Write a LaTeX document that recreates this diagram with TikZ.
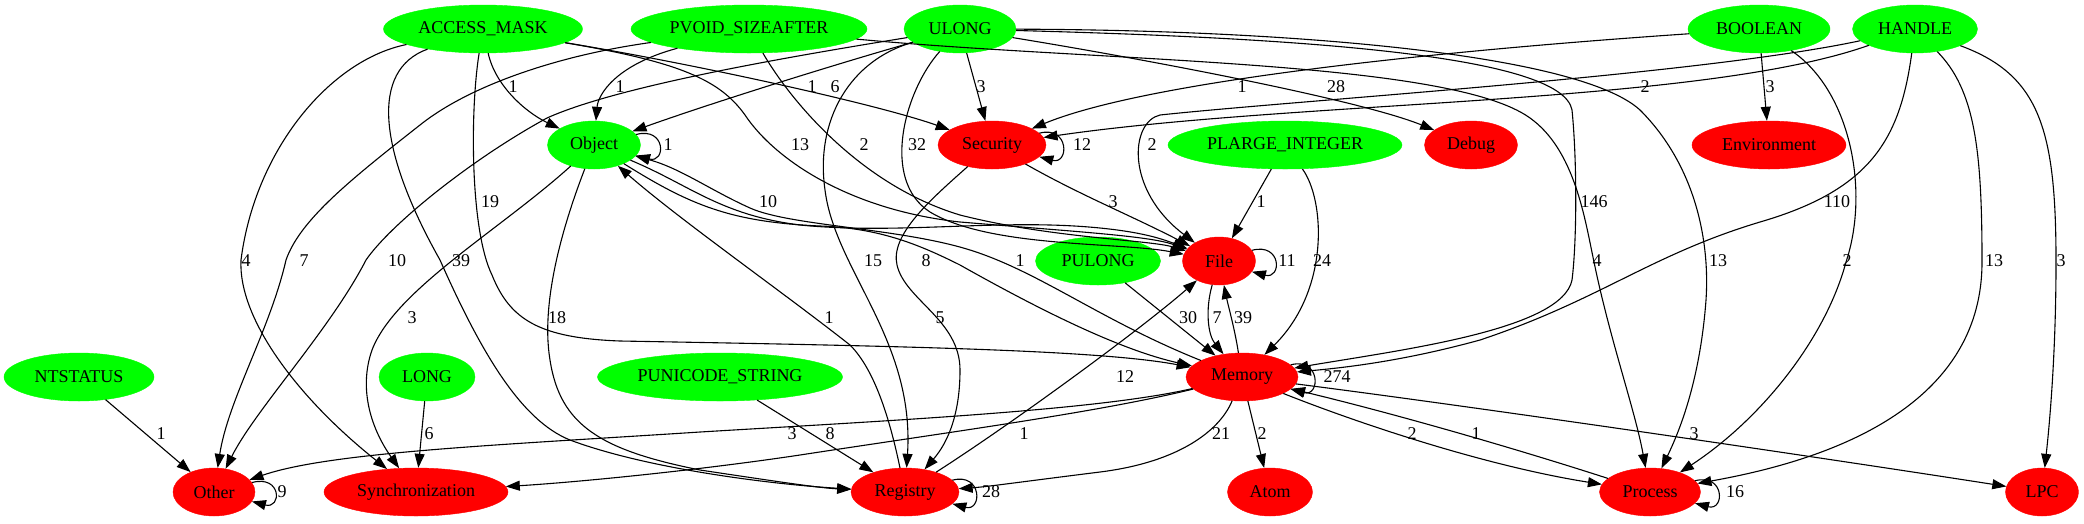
\documentclass[tikz,border=0pt]{standalone}
\usepackage{fontspec}
\setmainfont{Liberation Serif}
\usetikzlibrary{shapes.geometric,arrows.meta}
\definecolor{gvgreen}{RGB}{0,255,0}
\definecolor{gvred}{RGB}{255,0,0}
\tikzset{
  basenode/.style={ellipse, inner sep=0pt, minimum height=48pt, font=\fontsize{18}{20}\selectfont},
  gnode/.style={basenode, fill=gvgreen, draw=gvgreen},
  rnode/.style={basenode, fill=gvred, draw=gvred},
  conn/.style={draw=black, line width=1.1pt, -{Triangle[length=14pt,width=10pt]}},
  lbl/.style={font=\fontsize{18}{20}\selectfont, inner sep=0pt},
}
\begin{document}
\begin{tikzpicture}[x=1pt,y=-1pt]
\fill[white] (0,0) rectangle (2084,523);
\useasboundingbox (0,0) rectangle (2084,523);
% nodes
\node[gnode, minimum width=199pt] (AM) at (483,29) {ACCESS\_MASK};
\node[gnode, minimum width=236pt] (PV) at (749,29) {PVOID\_SIZEAFTER};
\node[gnode, minimum width=112pt] (UL) at (960,29) {ULONG};
\node[gnode, minimum width=142pt] (BO) at (1759,29) {BOOLEAN};
\node[gnode, minimum width=125pt] (HA) at (1915,29) {HANDLE};
\node[gnode, minimum width=93pt] (OB) at (594,145) {Object};
\node[rnode, minimum width=108pt] (SE) at (992,145) {Security};
\node[gnode, minimum width=234pt] (PL) at (1285,145) {PLARGE\_INTEGER};
\node[rnode, minimum width=93pt] (DE) at (1471,145) {Debug};
\node[rnode, minimum width=154pt] (EN) at (1769,145) {Environment};
\node[gnode, minimum width=125pt] (PU) at (1098,261) {PULONG};
\node[rnode, minimum width=73pt] (FI) at (1219,261) {File};
\node[gnode, minimum width=150pt] (NT) at (79,377) {NTSTATUS};
\node[gnode, minimum width=96pt] (LO) at (427,377) {LONG};
\node[gnode, minimum width=245pt] (PS) at (720,377) {PUNICODE\_STRING};
\node[rnode, minimum width=112pt] (ME) at (1242,377) {Memory};
\node[rnode, minimum width=82pt] (OT) at (214,492) {Other};
\node[rnode, minimum width=184pt] (SY) at (416,492) {Synchronization};
\node[rnode, minimum width=108pt] (RE) at (905,492) {Registry};
\node[rnode, minimum width=85pt] (AT) at (1270,492) {Atom};
\node[rnode, minimum width=101pt] (PR) at (1650,492) {Process};
\node[rnode, minimum width=73pt] (LP) at (2042,492) {LPC};
% edges from top row
\draw[conn] (AM) .. controls (495,85) and (525,112) .. (OB);
\draw[conn] (PV) .. controls (615,65) and (598,95) .. (OB);
\draw[conn] (UL) .. controls (850,60) and (720,100) .. (OB);
\draw[conn] (UL) .. controls (800,55) and (620,85) .. (547,118) .. controls (470,160) and (390,225) .. (366,260) .. controls (330,330) and (255,410) .. (OT);
\draw[conn] (PV) .. controls (560,55) and (470,85) .. (420,125) .. controls (350,180) and (300,220) .. (286,260) .. controls (270,330) and (228,400) .. (OT);
\draw[conn] (AM) .. controls (330,60) and (255,150) .. (241,260) .. controls (238,320) and (300,400) .. (SY);
\draw[conn] (AM) .. controls (370,70) and (378,150) .. (440,260) .. controls (480,350) and (520,420) .. (570,440) .. controls (650,470) and (780,485) .. (RE);
\draw[conn] (AM) .. controls (470,110) and (470,230) .. (492,275) .. controls (510,320) and (540,338) .. (620,341) .. controls (900,346) and (1100,350) .. (ME);
\draw[conn] (AM) .. controls (700,65) and (880,105) .. (SE);
\draw[conn] (AM) .. controls (680,62) and (720,80) .. (745,115) .. controls (775,160) and (850,210) .. (960,222) .. controls (1080,232) and (1150,236) .. (FI);
\draw[conn] (PV) .. controls (790,100) and (860,185) .. (960,215) .. controls (1050,238) and (1150,240) .. (FI);
\draw[conn] (PV) .. controls (1100,62) and (1450,60) .. (1530,118) .. controls (1575,150) and (1585,220) .. (1594,262) .. controls (1610,340) and (1635,410) .. (PR);
\draw[conn] (UL) -- (SE);
\draw[conn] (UL) .. controls (905,90) and (880,180) .. (930,212) .. controls (990,248) and (1120,242) .. (FI);
\draw[conn] (UL) .. controls (850,60) and (815,120) .. (825,190) .. controls (835,270) and (915,340) .. (RE);
\draw[conn] (UL) .. controls (1150,60) and (1360,100) .. (DE);
\draw[conn] (UL) .. controls (1300,38) and (1562,55) .. (1572,110) .. controls (1577,160) and (1577,240) .. (1572,280) .. controls (1562,330) and (1400,350) .. (ME);
\draw[conn] (UL) .. controls (1300,30) and (1580,55) .. (1640,110) .. controls (1695,165) and (1710,240) .. (1706,300) .. controls (1700,380) and (1680,430) .. (PR);
\draw[conn] (BO) .. controls (1450,50) and (1150,80) .. (SE);
\draw[conn] (BO) -- (EN);
\draw[conn] (BO) .. controls (1850,90) and (1870,190) .. (1846,262) .. controls (1825,340) and (1760,420) .. (PR);
\draw[conn] (HA) .. controls (1700,105) and (1300,100) .. (SE);
\draw[conn] (HA) .. controls (1700,75) and (1300,100) .. (1160,115) .. controls (1130,122) and (1125,190) .. (FI);
\draw[conn] (HA) .. controls (1900,140) and (1870,190) .. (1760,222) .. controls (1650,255) and (1600,300) .. (1480,340) .. controls (1400,362) and (1340,368) .. (ME);
\draw[conn] (HA) .. controls (1975,90) and (1982,150) .. (1982,262) .. controls (1982,420) and (1800,465) .. (PR);
\draw[conn] (HA) .. controls (2040,75) and (2056,130) .. (2056,262) .. controls (2056,350) and (2050,420) .. (LP);
% middle
\draw[conn] (PL) -- (FI);
\draw[conn] (PL) .. controls (1325,200) and (1330,290) .. (ME);
\draw[conn] (SE) .. controls (1080,195) and (1130,215) .. (FI);
\draw[conn] (SE) .. controls (930,200) and (890,235) .. (897,265) .. controls (905,300) and (960,320) .. (960,370) .. controls (960,410) and (950,440) .. (RE);
\draw[conn] (OB) .. controls (500,230) and (395,290) .. (372,350) .. controls (358,390) and (372,430) .. (SY);
\draw[conn] (OB) .. controls (565,220) and (540,300) .. (550,360) .. controls (560,425) and (600,450) .. (700,470) .. controls (780,482) and (820,488) .. (RE);
\draw[conn] (OB) .. controls (690,185) and (720,215) .. (800,225) .. controls (900,235) and (1000,218) .. (1100,228) .. controls (1140,232) and (1160,238) .. (FI);
\draw[conn] (ME) .. controls (1100,320) and (1040,272) .. (970,250) .. controls (900,228) and (790,226) .. (750,208) .. controls (710,190) and (680,168) .. (OB);
\draw[conn] (OB) .. controls (690,205) and (730,222) .. (820,226) .. controls (880,228) and (920,245) .. (960,265) .. controls (1040,310) and (1120,350) .. (ME);
\draw[conn] (RE) .. controls (890,420) and (875,370) .. (850,345) .. controls (780,290) and (680,220) .. (OB);
\draw[conn] (RE) .. controls (1010,425) and (1140,330) .. (FI);
\draw[conn] (PU) -- (ME);
\draw[conn] (FI) .. controls (1205,310) and (1208,335) .. (ME);
\draw[conn] (ME) .. controls (1235,330) and (1228,305) .. (FI);
% from Memory
\draw[conn] (ME) .. controls (1100,410) and (900,420) .. (700,432) .. controls (500,445) and (330,452) .. (OT);
\draw[conn] (ME) .. controls (1100,412) and (950,432) .. (800,455) .. controls (700,470) and (580,482) .. (SY);
\draw[conn] (ME) .. controls (1220,430) and (1180,462) .. (1100,472) .. controls (1020,482) and (985,487) .. (RE);
\draw[conn] (ME) -- (AT);
\draw[conn] (ME) .. controls (1350,420) and (1480,465) .. (PR);
\draw[conn] (PR) .. controls (1520,450) and (1400,415) .. (ME);
\draw[conn] (ME) .. controls (1500,410) and (1850,462) .. (LP);
\draw[conn] (NT) -- (OT);
\draw[conn] (LO) -- (SY);
\draw[conn] (PS) -- (RE);
% self loops
\draw[conn] (OB.14) .. controls +(30,-8) and +(30,8) .. (OB.-14);
\draw[conn] (SE.14) .. controls +(30,-8) and +(30,8) .. (SE.-14);
\draw[conn] (FI.18) .. controls +(30,-8) and +(30,8) .. (FI.-18);
\draw[conn] (ME.14) .. controls +(30,-8) and +(30,8) .. (ME.-14);
\draw[conn] (OT.14) .. controls +(30,-8) and +(30,8) .. (OT.-14);
\draw[conn] (RE.14) .. controls +(30,-8) and +(30,8) .. (RE.-14);
\draw[conn] (PR.14) .. controls +(30,-8) and +(30,8) .. (PR.-14);
% labels
\node[lbl] (l1) at (513,87) {1};
\node[lbl] (l2) at (620,87) {1};
\node[lbl] (l3) at (812,87) {1};
\node[lbl] (l4) at (835,87) {6};
\node[lbl] (l5) at (981,87) {3};
\node[lbl] (l6) at (1242,87) {1};
\node[lbl] (l7) at (1336,87) {28};
\node[lbl] (l8) at (1645,87) {2};
\node[lbl] (l9) at (1770,87) {3};
\node[lbl] (l10) at (668,145) {1};
\node[lbl] (l11) at (800,145) {13};
\node[lbl] (l12) at (864,145) {2};
\node[lbl] (l13) at (917,145) {32};
\node[lbl] (l14) at (1082,145) {12};
\node[lbl] (l15) at (1152,145) {2};
\node[lbl] (l16) at (490,202) {19};
\node[lbl] (l17) at (768,202) {10};
\node[lbl] (l18) at (1113,202) {3};
\node[lbl] (l19) at (1261,202) {1};
\node[lbl] (l20) at (1594,202) {146};
\node[lbl] (l21) at (1837,202) {110};
\node[lbl] (l22) at (246,261) {4};
\node[lbl] (l23) at (304,261) {7};
\node[lbl] (l24) at (397,261) {10};
\node[lbl] (l25) at (461,261) {39};
\node[lbl] (l26) at (873,261) {15};
\node[lbl] (l27) at (926,261) {8};
\node[lbl] (l28) at (1020,261) {1};
\node[lbl] (l29) at (1287,261) {11};
\node[lbl] (l30) at (1322,261) {24};
\node[lbl] (l31) at (1597,261) {4};
\node[lbl] (l32) at (1718,261) {13};
\node[lbl] (l33) at (1847,261) {2};
\node[lbl] (l34) at (1994,261) {13};
\node[lbl] (l35) at (2061,261) {3};
\node[lbl] (l36) at (412,318) {3};
\node[lbl] (l37) at (557,318) {18};
\node[lbl] (l38) at (829,318) {1};
\node[lbl] (l39) at (940,318) {5};
\node[lbl] (l40) at (1188,318) {30};
\node[lbl] (l41) at (1217,318) {7};
\node[lbl] (l42) at (1243,318) {39};
\node[lbl] (l43) at (1125,377) {12};
\node[lbl] (l44) at (1337,377) {274};
\node[lbl] (l45) at (161,434) {1};
\node[lbl] (l46) at (429,434) {6};
\node[lbl] (l47) at (792,434) {3};
\node[lbl] (l48) at (830,434) {8};
\node[lbl] (l49) at (1024,434) {1};
\node[lbl] (l50) at (1221,434) {21};
\node[lbl] (l51) at (1262,434) {2};
\node[lbl] (l52) at (1412,434) {2};
\node[lbl] (l53) at (1476,434) {1};
\node[lbl] (l54) at (1694,434) {3};
\node[lbl] (l55) at (282,492) {9};
\node[lbl] (l56) at (991,492) {28};
\node[lbl] (l57) at (1735,492) {16};
\end{tikzpicture}
\end{document}
